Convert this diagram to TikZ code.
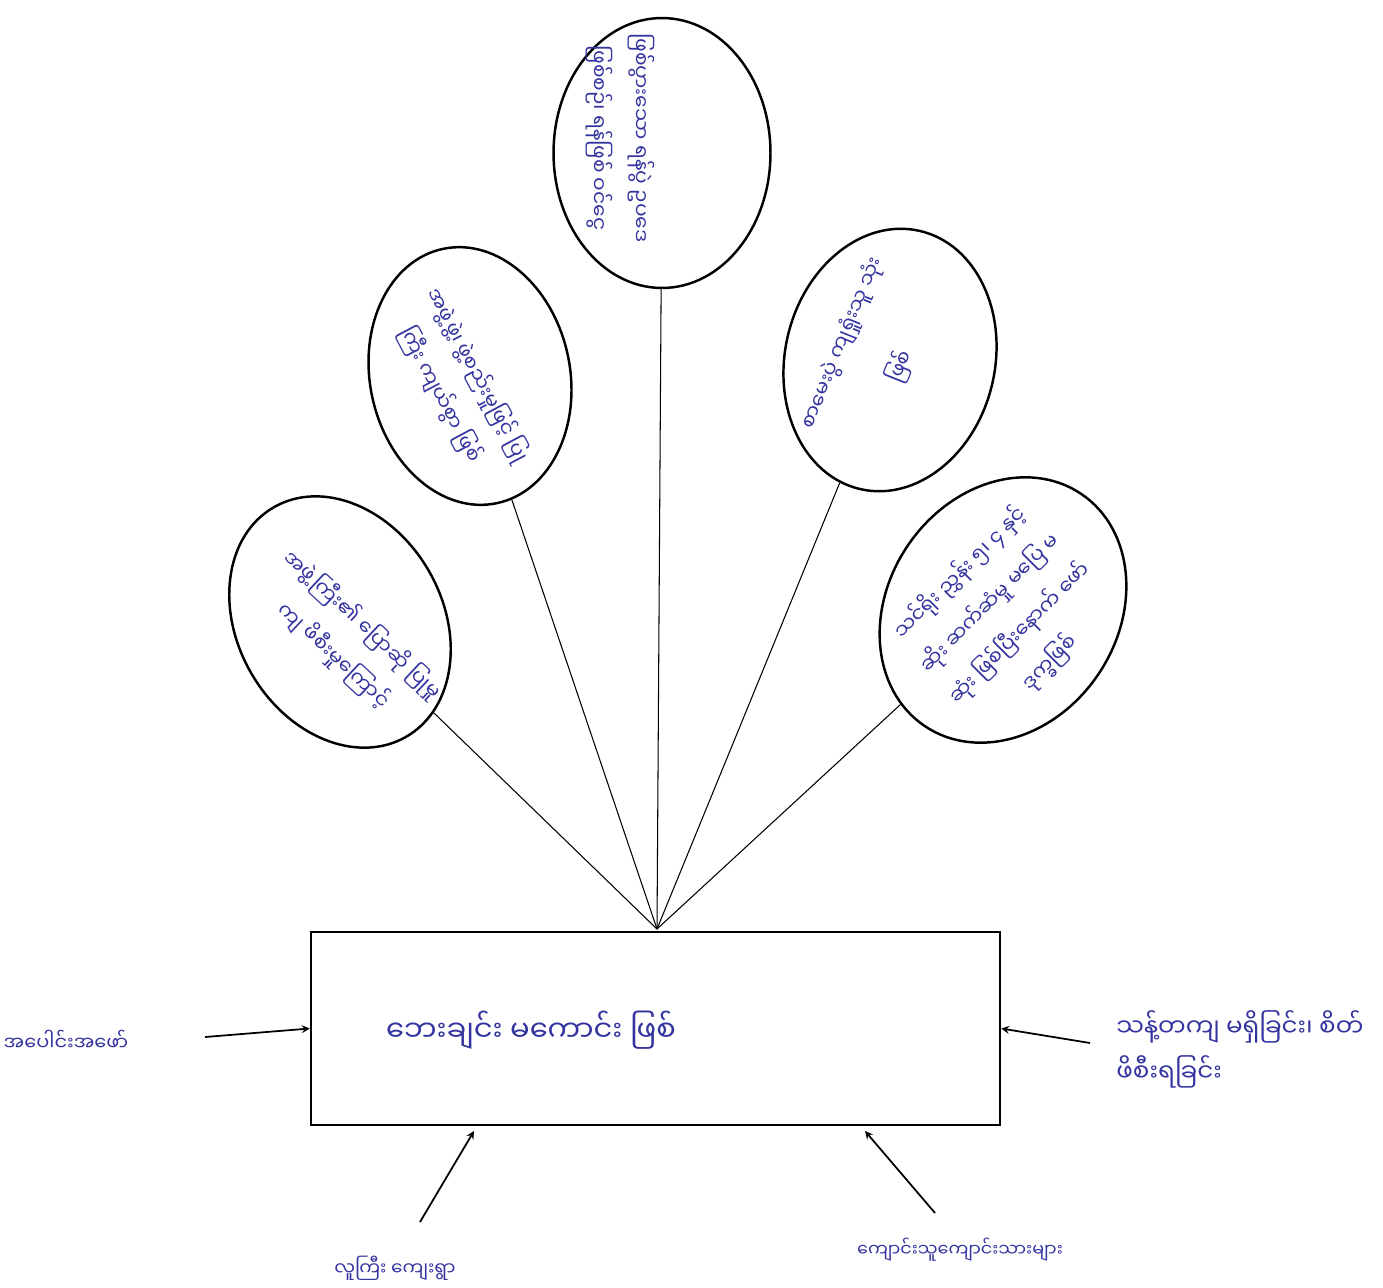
\documentclass[tikz,border=0pt]{standalone}
\usepackage{fontspec}
\usepackage{tikz}
\usetikzlibrary{shapes.geometric}
\newfontfamily\mya[Script=Myanmar]{Noto Sans Myanmar UI}
\definecolor{ink}{RGB}{52,52,160}
\tikzstyle{blob}=[ellipse, draw, line width=1.4pt, inner sep=0pt]
\tikzstyle{note}=[ink, font=\mya\fontsize{11.5}{24}\selectfont, align=center, inner sep=0pt]
\tikzstyle{spoke}=[line width=0.6pt]
\tikzstyle{push}=[line width=1pt, -stealth]

\begin{document}
\begin{tikzpicture}[x=0.02cm, y=-0.02cm]
	\useasboundingbox (0,0) rectangle (1383,1288);
		\node[blob, minimum width=4.34cm, minimum height=5.4cm] (e1) at (662,153) {};
		\node[blob, minimum width=4.0cm, minimum height=5.2cm, rotate=12] (e2) at (470,376) {};
		\node[blob, minimum width=4.1cm, minimum height=5.3cm, rotate=30] (e3) at (340,622) {};
		\node[blob, minimum width=4.2cm, minimum height=5.3cm, rotate=-13] (e4) at (890,360) {};
		\node[blob, minimum width=4.6cm, minimum height=5.6cm, rotate=-34] (e5) at (1003,610) {};
		\node[note, rotate=-90] (t1) at (620,138) {ဖြစ်ပွားသော ရန်ပွဲ ဥပဒေ\\ဖြစ်စဉ်၊ ရန်ဖြစ် ဝင်ငွေ};
		\node[note, rotate=-62] (t2) at (459,385) {အဖွဲ့ဖွဲ့၊ ဖွဲ့စည်းမှုဖြင့် ပြု\\ကြီး ကျယ်စွာ ဖြစ်};
		\node[note, rotate=-43] (t3) at (348,640) {အဖွဲ့ကြီး၏ ပြောဆို ပြုမှု\\ကျ ဖိစီးမှုကြောင့်};
		\node[note, rotate=68] (t4) at (872,355) {စာမေးပွဲ ကျရှုံးသူ သုံး\\[12pt]ဖြစ်};
		\node[note, rotate=45] (t5) at (1005,618) {သင်ရိုး ညွှန်း ၅၊ ၄ နှင့်\\ဆိုး ဆက်ဆံမှု မပြေ မ\\ဆုံး ဖြစ်ပြီးနောက် ဖော်\\ဒုက္ခဖြစ်};
		\node[draw, line width=1.5pt, minimum width=13.78cm, minimum height=3.86cm] (box) at (655.5,1028.5) {};
		\node[note, font=\mya\fontsize{16.5}{20}\selectfont] (t0) at (531,1030) {ဘေးချင်း မကောင်း ဖြစ်};
		\coordinate (0) at (657,929);
		\draw[spoke] (e1)edge(0) (e2)edge(0) (e3)edge(0) (e4)edge(0) (e5)edge(0)  ;
		\node[note, font=\mya\fontsize{11}{20}\selectfont] (l1) at (66,1040) {အပေါင်းအဖော်};
		\node[note, font=\mya\fontsize{14}{26}\selectfont, align=left, anchor=north west] (l2) at (1116,1010) {သန့်တကျ မရှိခြင်း၊ စိတ်\\ဖိစီးရခြင်း};
		\node[note, font=\mya\fontsize{10.5}{20}\selectfont] (l3) at (395,1268) {လူကြီး ကျေးရွာ};
		\node[note, font=\mya\fontsize{10}{20}\selectfont] (l4) at (960,1250) {ကျောင်းသူကျောင်းသားများ};
		\coordinate (a1) at (205,1037);
		\coordinate (a2) at (1090,1043);
		\coordinate (a3) at (420,1222);
		\coordinate (a4) at (935,1213);
		\coordinate (b3) at (474,1131);
		\coordinate (b4) at (865,1131);
		\draw (a1)edge[push](box.west) (a2)edge[push](box.east) (a3)edge[push](b3) (a4)edge[push](b4)  ;
	\end{tikzpicture}
\end{document}
